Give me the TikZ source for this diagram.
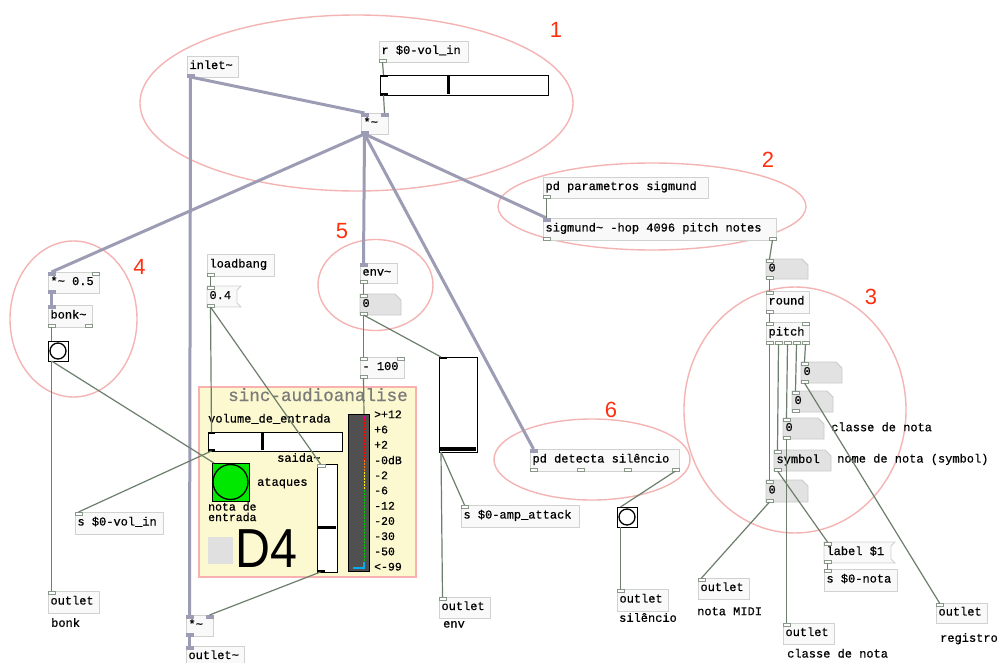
\documentclass[tikz,border=0pt]{standalone}
\usepackage{fontspec}
\newfontfamily\pdfont{Liberation Mono}[FakeBold=0.6]
\newfontfamily\pdsans{Liberation Sans}
\definecolor{boxfill}{HTML}{F8F9F8}
\definecolor{boxline}{HTML}{D0D2D0}
\definecolor{numfill}{HTML}{E2E2E2}
\definecolor{numline}{HTML}{CACACA}
\definecolor{sigcol}{HTML}{9C9CB4}
\definecolor{ctlcol}{HTML}{6C7E6C}
\definecolor{ellcol}{HTML}{F4B4B4}
\definecolor{rednum}{HTML}{FF3010}
\definecolor{gopfill}{HTML}{FCF9D0}
\definecolor{gopline}{HTML}{F8B0B0}
\definecolor{vucol}{HTML}{505050}
\definecolor{bangg}{HTML}{00E800}
\definecolor{titlegray}{HTML}{7A7A7A}
\definecolor{sqgray}{HTML}{E0E0E0}
\newcommand\pdobj[7][pdbox]{%
  \pgfmathsetmacro\pdtw{#5-#3-5}%
  \pgfmathsetmacro\pdth{#6-#4}%
  \pgfmathsetmacro\pdwd{#5-#3}%
  \node[#1,minimum height=\pdth pt,minimum width=\pdwd pt] (#2) at (#3,#4) {\makebox[\pdtw pt][l]{#7}};}
\newcommand\pdnum[6]{%
  \filldraw[numsty] (#2,#3) -- ({#4-6},#3) -- (#4,{#3+6}) -- (#4,#5) -- (#2,#5) -- cycle;
  \pdobj[pdtext]{#1}{#2}{#3}{#4}{#5}{#6}}
\newcommand\pdmsg[6]{%
  \filldraw[msgsty] (#2,#3) -- (#4,#3) -- ({#4-4},{#3+4}) -- ({#4-4},{#5-4}) -- (#4,#5) -- (#2,#5) -- cycle;
  \pdobj[pdtext]{#1}{#2}{#3}{#4-4}{#5}{#6}}
\newcommand\sTL[2][c]{\draw[stub#1] (#2.north west) rectangle ++(7,3);}
\newcommand\sTR[2][c]{\draw[stub#1] ([xshift=-7pt]#2.north east) rectangle ++(7,3);}
\newcommand\sBL[2][c]{\draw[stub#1] (#2.south west) rectangle ++(7,-3);}
\newcommand\sBR[2][c]{\draw[stub#1] ([xshift=-7pt]#2.south east) rectangle ++(7,-3);}
\newcommand\sB[2]{\draw[stubc] ([xshift=#2pt]#1.south west) rectangle ++(7,-3);}
\begin{document}
\begin{tikzpicture}[x=1pt,y=-1pt,
  pdtext/.style={anchor=north west, inner xsep=2.5pt, inner ysep=0pt, outer sep=0pt, font=\pdfont\fontsize{12}{12}\selectfont, text height=7pt, text depth=2pt},
  pdbox/.style={pdtext, draw=boxline, fill=boxfill, line width=0.8pt},
  numsty/.style={fill=numfill, draw=numline, line width=0.8pt},
  msgsty/.style={fill=boxfill, draw=boxline, line width=0.8pt},
  stubc/.style={draw=ctlcol!80, fill=white, line width=0.6pt},
  stubs/.style={draw=sigcol, fill=sigcol, line width=0.6pt},
  sig/.style={draw=sigcol, line width=3pt},
  ctl/.style={draw=ctlcol, line width=1.2pt},
  ell/.style={draw=ellcol, line width=1.4pt},
  gui/.style={anchor=north west, draw=black, fill=white, line width=0.9pt, inner sep=0pt, outer sep=0pt},
  lbl/.style={anchor=west, inner sep=0pt, font=\pdfont\fontsize{12}{12}\selectfont, text height=7pt, text depth=2pt},
  vulbl/.style={anchor=west, inner sep=0pt, font=\pdfont\fontsize{11.5}{11.5}\selectfont},
  rnum/.style={text=rednum, font=\pdsans\fontsize{22}{22}\selectfont, inner sep=0pt},
]
\useasboundingbox (0,0) rectangle (1001,663);
\fill[white] (0,0) rectangle (1001,663);

% ---- group ellipses
\draw[ell] (356.5,103) ellipse [x radius=216.5pt, y radius=88pt];
\draw[ell] (652,206.5) ellipse [x radius=154pt, y radius=43.5pt];
\draw[ell] (795,410) ellipse [x radius=111pt, y radius=123pt];
\draw[ell] (73.5,319) ellipse [x radius=63.5pt, y radius=78pt];
\draw[ell] (375.5,285) ellipse [x radius=57.5pt, y radius=45.5pt];
\draw[ell] (592,459.5) ellipse [x radius=98pt, y radius=40.5pt];
\node[rnum] (r1) at (556,30) {1};
\node[rnum] (r2) at (768,160) {2};
\node[rnum] (r3) at (871,296.5) {3};
\node[rnum] (r4) at (139.5,267) {4};
\node[rnum] (r5) at (342,231.5) {5};
\node[rnum] (r6) at (611,409.5) {6};

% ---- GOP sinc-audioanalise
\node[anchor=north west, fill=gopfill, draw=gopline, line width=1.2pt, inner sep=0pt, outer sep=0pt, minimum width=217pt, minimum height=190pt] (gop) at (199,387) {};
\node[anchor=base west, inner sep=0pt, text=titlegray, font=\pdfont\fontsize{17.6}{17.6}\selectfont] (gtitle) at (228,401) {sinc-audioanalise};
\node[lbl] (lvol) at (208,420) {volume\_de\_entrada};
\node[gui, minimum width=134pt, minimum height=19pt] (hs2) at (208,432) {};
\draw[line width=3pt] (262,433) -- (262,450);
\draw[line width=1.2pt] (208.5,433) -- (215,433) (208.5,450) -- (215,450);
\node[lbl] (lsaida) at (277,459.3) {saida\textasciitilde};
\node[anchor=north west, draw=black, fill=bangg, line width=0.9pt, inner sep=0pt, outer sep=0pt, minimum width=37pt, minimum height=38pt] (gbang) at (212,463) {};
\draw[line width=1.3pt] (gbang.center) circle (17.5pt);
\node[lbl] (lata) at (257,483.3) {ataques};
\node[anchor=north west, inner sep=0pt, align=left, font=\pdfont\fontsize{11.5}{10.5}\selectfont] (lnota) at (208,502) {nota de\\entrada};
\fill[sqgray] (208,537) rectangle (233,564);
\node[anchor=base west, inner sep=0pt, text height=40pt, text depth=0pt, font=\pdsans\fontsize{55}{55}\selectfont] (dfour) at (235,567) {\scalebox{0.88}[1]{D4}};
\node[gui, minimum width=20pt, minimum height=108pt] (vs1) at (317,464) {};
\draw[line width=3pt] (318,527) -- (336,527);
\draw[stubc] (317,464) rectangle ++(8,3);
\draw[line width=1.2pt] (317.5,571) -- (325,571);
\node[anchor=north west, draw=black, fill=vucol, line width=0.9pt, inner sep=0pt, outer sep=0pt, minimum width=21pt, minimum height=157pt] (vu) at (348,414) {};
\draw[magenta, line width=1pt] (364,416) -- (364,419);
\draw[red, line width=1pt, dash pattern=on 2pt off 1pt] (364,419) -- (364,460);
\draw[orange, line width=1pt, dash pattern=on 2pt off 1pt] (364,460) -- (364,472);
\draw[yellow, line width=1pt, dash pattern=on 2pt off 1pt] (364,472) -- (364,490);
\draw[green!80!black, line width=1pt, dash pattern=on 2pt off 1pt] (364,490) -- (364,566);
\draw[cyan, line width=1.2pt] (353,568) -- (364,568) -- (364,562);
\foreach \t [count=\i from 0] in {>+12,+6,+2,-0dB,-2,-6,-12,-20,-30,-50,<-99}
  \node[vulbl] (vul\i) at (374,{414.3+15.24*\i}) {\t};

% ---- top
\pdobj{inl}{187}{56}{238}{77}{inlet\textasciitilde}
\sBL[s]{inl}
\pdobj{rvol}{379}{41}{468}{62}{r \$0-vol\_in}
\sBL{rvol}
\node[gui, minimum width=168pt, minimum height=20pt] (hs1) at (380,75) {};
\draw[line width=3pt] (448,76) -- (448,94);
\draw[line width=1.2pt] (380.5,76) -- (388,76) (380.5,94) -- (388,94);
\pdobj{mul1}{361}{113}{388}{134}{*\textasciitilde}
\sTL[s]{mul1}\sTR[s]{mul1}\sBL[s]{mul1}
\pdobj{pdpar}{543}{177}{708}{198}{pd parametros sigmund}
\sBL{pdpar}
\pdobj{sig}{543}{218}{776}{240}{sigmund\textasciitilde{} -hop 4096 pitch notes}
\sTL[s]{sig}\sBL{sig}\sBR{sig}

% ---- left (bonk)
\pdobj{mulh}{48}{272}{99}{293}{*\textasciitilde{} 0.5}
\sTL[s]{mulh}\sTR{mulh}\sBL[s]{mulh}
\pdobj{bonk}{48}{305}{92}{327}{bonk\textasciitilde}
\sTL[s]{bonk}\sBL{bonk}\sBR{bonk}
\node[gui, minimum width=20pt, minimum height=20pt] (bbonk) at (48,341) {};
\draw[line width=1.3pt] (bbonk.center) circle (8pt);
\pdobj{svol}{75}{512}{163}{534}{s \$0-vol\_in}
\sTL{svol}
\pdobj{obonk}{48}{591}{99}{613}{outlet}
\sTL{obonk}
\node[lbl] (lbonk) at (51,624.3) {bonk};

% ---- loadbang
\pdobj{lb}{207}{254}{274}{276}{loadbang}
\sBL{lb}
\pdmsg{m04}{207}{286}{241}{307}{0.4}
\sTL{m04}\sBL{m04}

% ---- bottom signal
\pdobj{mul2}{186}{615}{213}{636}{*\textasciitilde}
\sTL[s]{mul2}\sTR[s]{mul2}\sBL[s]{mul2}
\pdobj{outs}{186}{646}{244}{667}{outlet\textasciitilde}
\sTL[s]{outs}

% ---- env
\pdobj{env}{360}{263}{397}{283}{env\textasciitilde}
\sTL[s]{env}\sBL{env}
\pdnum{nenv}{360}{294}{401}{315}{0}
\sTL{nenv}\sBL{nenv}
\pdobj{m100}{360}{357}{404}{378}{- 100}
\sTL{m100}\sTR{m100}\sBL{m100}
\node[gui, minimum width=38pt, minimum height=95pt] (vs2) at (439,357) {};
\draw[line width=3.5pt] (440,449) -- (476,449);
\draw[line width=1.2pt] (439.5,358) -- (447,358);
\pdobj{samp}{461}{505}{579}{527}{s \$0-amp\_attack}
\sTL{samp}
\pdobj{oenv}{439}{597}{490}{618}{outlet}
\sTL{oenv}
\node[lbl] (lenv) at (443,625) {env};

% ---- silence
\pdobj{det}{530}{449}{679}{471}{pd detecta silêncio}
\sTL[s]{det}\sB{det}{0}\sB{det}{47.3}\sB{det}{94.7}\sB{det}{142}
\node[gui, minimum width=20pt, minimum height=20pt] (bsil) at (617,507) {};
\draw[line width=1.3pt] (bsil.center) circle (8pt);
\pdobj{osil}{617}{589}{668}{611}{outlet}
\sTL{osil}
\node[lbl] (lsil) at (619,619.3) {silêncio};

% ---- pitch section
\pdnum{nsig}{766}{259}{808}{279}{0}
\sTL{nsig}\sBL{nsig}
\pdobj{round}{766}{291}{809}{313}{round}
\sTL{round}\sBL{round}
\pdobj{pitch}{766}{322}{809}{344}{pitch}
\sTL{pitch}\sTR{pitch}\sB{pitch}{0}\sB{pitch}{9}\sB{pitch}{18}\sB{pitch}{27}\sB{pitch}{36}
\pdnum{n5}{801}{362}{842}{383}{0}
\sTL{n5}\sBL{n5}
\pdnum{n4}{792}{391}{833}{412}{0}
\sTL{n4}\sBL{n4}
\pdnum{n3}{783}{418}{824}{439}{0}
\sTL{n3}\sBL{n3}
\node[lbl] (lcls1) at (831,428.7) {classe de nota};
\pdnum{sym}{774}{450}{831}{471}{symbol}
\sTL{sym}\sBL{sym}
\node[lbl] (lnome) at (837,460) {nome de nota (symbol)};
\pdnum{n1}{766}{480}{808}{502}{0}
\sTL{n1}\sBL{n1}
\pdmsg{mlab}{824}{542}{895}{563}{label \$1}
\sTL{mlab}\sBL{mlab}
\pdobj{snota}{824}{569}{897}{591}{s \$0-nota}
\sTL{snota}
\pdobj{omidi}{698}{578}{749}{599}{outlet}
\sTL{omidi}
\node[lbl] (lmidi) at (697,612.7) {nota MIDI};
\pdobj{ocls}{783}{623}{834}{644}{outlet}
\sTL{ocls}
\node[lbl] (lcls2) at (787,655) {classe de nota};
\pdobj{oreg}{936}{603}{987}{623}{outlet}
\sTL{oreg}
\node[lbl] (lreg) at (940,639.3) {registro};

% ---- signal connections
\draw[sig] ([xshift=3.5pt]inl.south west) -- ([xshift=3.5pt]mul1.north west);
\draw[sig] ([xshift=3.5pt]inl.south west) -- ([xshift=3.5pt]mul2.north west);
\draw[sig] ([xshift=3.5pt]mul1.south west) -- ([xshift=3.5pt]mulh.north west);
\draw[sig] ([xshift=3.5pt]mul1.south west) -- ([xshift=3.5pt]env.north west);
\draw[sig] ([xshift=3.5pt]mul1.south west) -- ([xshift=3.5pt]det.north west);
\draw[sig] ([xshift=3.5pt]mul1.south west) -- ([xshift=3.5pt]sig.north west);
\draw[sig] ([xshift=3.5pt]mulh.south west) -- ([xshift=3.5pt]bonk.north west);
\draw[sig] ([xshift=3.5pt]mul2.south west) -- ([xshift=3.5pt]outs.north west);

% ---- control connections
\draw[ctl] ([xshift=3.5pt]rvol.south west) -- ([xshift=3.5pt]hs1.north west);
\draw[ctl] ([xshift=3.5pt]hs1.south west) -- ([xshift=-3.5pt]mul1.north east);
\draw[ctl] ([xshift=3.5pt]pdpar.south west) -- ([xshift=3.5pt]sig.north west);
\draw[ctl] ([xshift=-3.5pt]sig.south east) -- ([xshift=3.5pt]nsig.north west);
\draw[ctl] ([xshift=3.5pt]nsig.south west) -- ([xshift=3.5pt]round.north west);
\draw[ctl] ([xshift=3.5pt]round.south west) -- ([xshift=3.5pt]pitch.north west);
\draw[ctl] ([xshift=3.5pt]pitch.south west) -- ([xshift=3.5pt]n1.north west);
\draw[ctl] ([xshift=12.5pt]pitch.south west) -- ([xshift=3.5pt]sym.north west);
\draw[ctl] ([xshift=21.5pt]pitch.south west) -- ([xshift=3.5pt]n3.north west);
\draw[ctl] ([xshift=30.5pt]pitch.south west) -- ([xshift=3.5pt]n4.north west);
\draw[ctl] ([xshift=39.5pt]pitch.south west) -- ([xshift=3.5pt]n5.north west);
\draw[ctl] ([xshift=3.5pt]n3.south west) -- ([xshift=3.5pt]ocls.north west);
\draw[ctl] ([xshift=3.5pt]n5.south west) -- ([xshift=3.5pt]oreg.north west);
\draw[ctl] ([xshift=3.5pt]sym.south west) -- ([xshift=3.5pt]mlab.north west);
\draw[ctl] ([xshift=3.5pt]mlab.south west) -- ([xshift=3.5pt]snota.north west);
\draw[ctl] ([xshift=3.5pt]n1.south west) -- ([xshift=3.5pt]omidi.north west);
\draw[ctl] ([xshift=3.5pt]bonk.south west) -- ([xshift=3.5pt]bbonk.north west);
\draw[ctl] ([xshift=3.5pt]bbonk.south west) -- ([xshift=3.5pt]obonk.north west);
\draw[ctl] ([xshift=3.5pt]bbonk.south west) -- ([xshift=2pt]gbang.north west);
\draw[ctl] ([xshift=3.5pt]lb.south west) -- ([xshift=3.5pt]m04.north west);
\draw[ctl] ([xshift=3.5pt]m04.south west) -- ([xshift=3.5pt]hs2.north west);
\draw[ctl] ([xshift=3.5pt]m04.south west) -- ([xshift=3.5pt]vs1.north west);
\draw[ctl] ([xshift=3.5pt]hs2.south west) -- ([xshift=3.5pt]svol.north west);
\draw[ctl] ([xshift=3.5pt]env.south west) -- ([xshift=3.5pt]nenv.north west);
\draw[ctl] ([xshift=3.5pt]nenv.south west) -- ([xshift=3.5pt]m100.north west);
\draw[ctl] ([xshift=3.5pt]nenv.south west) -- ([xshift=2pt]vs2.north west);
\draw[ctl] ([xshift=3.5pt]m100.south west) -- ([xshift=-5pt]vu.north east);
\draw[ctl] ([xshift=2pt]vs2.south west) -- ([xshift=3.5pt]samp.north west);
\draw[ctl] ([xshift=2pt]vs2.south west) -- ([xshift=3.5pt]oenv.north west);
\draw[ctl] ([xshift=-3.5pt]det.south east) -- ([xshift=3.5pt]bsil.north west);
\draw[ctl] ([xshift=3.5pt]bsil.south west) -- ([xshift=3.5pt]osil.north west);
\draw[ctl] ([xshift=3.5pt]vs1.south west) -- ([xshift=-3.5pt]mul2.north east);
\end{tikzpicture}
\end{document}
